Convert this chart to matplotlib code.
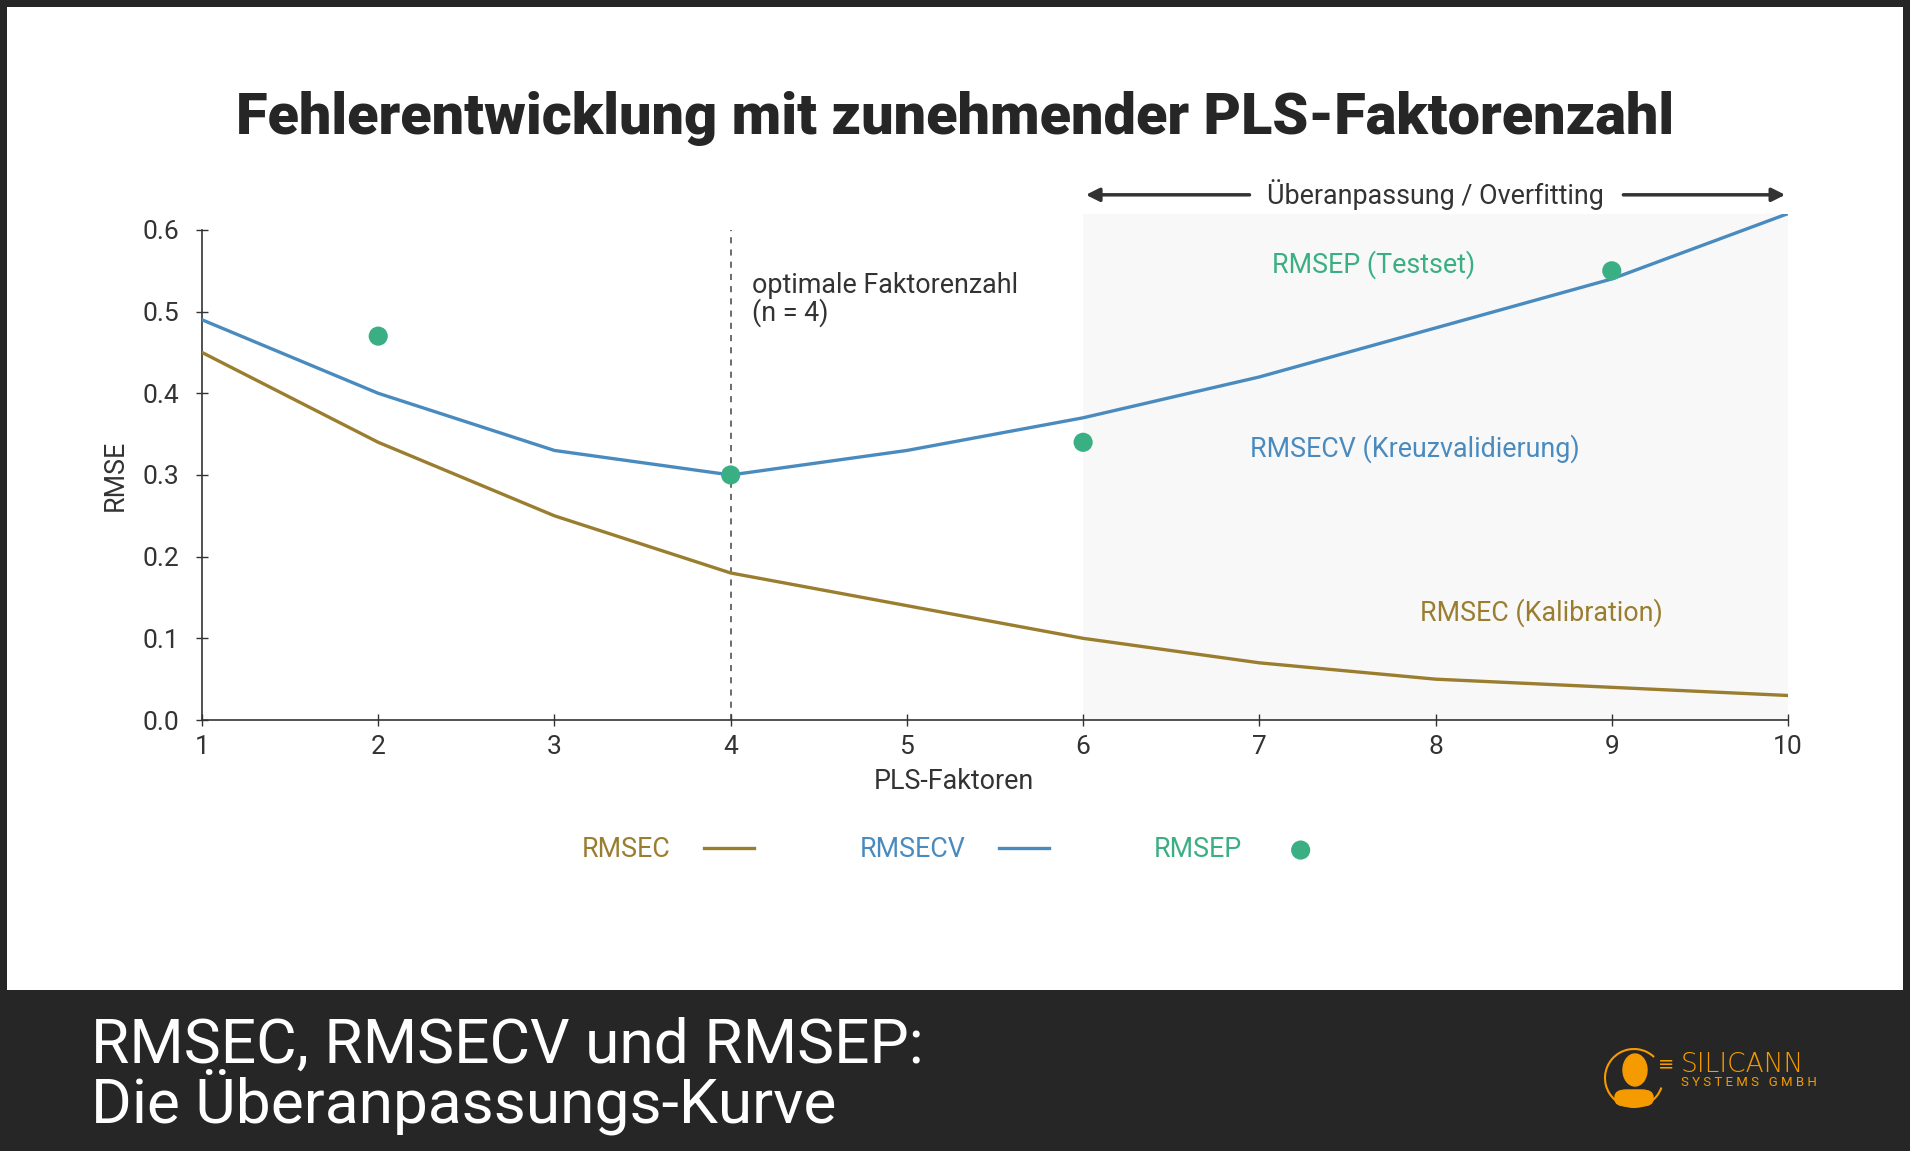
import matplotlib.pyplot as plt
from matplotlib.patches import Rectangle, Ellipse, Arc, FancyBboxPatch

plt.rcParams['font.family'] = ['Roboto', 'DejaVu Sans']

# data
factors = [1, 2, 3, 4, 5, 6, 7, 8, 9, 10]
rmsec = [0.45, 0.34, 0.25, 0.18, 0.14, 0.10, 0.07, 0.05, 0.04, 0.03]
rmsecv = [0.49, 0.40, 0.33, 0.30, 0.33, 0.37, 0.42, 0.48, 0.54, 0.62]
rmsep_x = [2, 4, 6, 9]
rmsep_y = [0.47, 0.30, 0.34, 0.55]
yticks = [0.0, 0.1, 0.2, 0.3, 0.4, 0.5, 0.6]

c_cal = '#9a7d2e'
c_cv = '#4a8bbf'
c_p = '#3baf84'
c_txt = '#333333'
c_dark = '#262626'
fs = 19.4

fig = plt.figure(figsize=(19.10, 11.51), dpi=100)
fig.patch.set_facecolor(c_dark)
# white panel
fig.patches.append(Rectangle((7 / 1910, 1 - 990 / 1151), 1896 / 1910, 983 / 1151,
                             transform=fig.transFigure, facecolor='white', edgecolor='none', zorder=-10))

ax = fig.add_axes([202 / 1910, 1 - 720 / 1151, 1586 / 1910, 506.4 / 1151])
ax.set_zorder(5)
ax.set_facecolor('none')
ax.set_xlim(1, 10)
ax.set_ylim(0, 0.62)

# overfitting zone
ax.axvspan(6, 10, color='#f8f8f8', zorder=0, lw=0)

ax.plot(factors, rmsec, color=c_cal, lw=2.4, zorder=3, label='RMSEC')
ax.plot(factors, rmsecv, color=c_cv, lw=2.4, zorder=3, label='RMSECV')
ax.scatter(rmsep_x, rmsep_y, s=190, color=c_p, zorder=4, label='RMSEP', edgecolors='none')

ax.plot([4, 4], [0, 0.6], color='#444444', lw=1.1, ls=(0, (4, 4)), zorder=2)
ax.text(4.12, 0.549, 'optimale Faktorenzahl\n(n = 4)', fontsize=fs, color=c_txt,
        va='top', ha='left', linespacing=1.0)

ax.text(7.65, 0.557, 'RMSEP (Testset)', fontsize=fs, color=c_p, ha='center', va='center')
ax.text(7.88, 0.332, 'RMSECV (Kreuzvalidierung)', fontsize=fs, color=c_cv, ha='center', va='center')
ax.text(8.6, 0.131, 'RMSEC (Kalibration)', fontsize=fs, color=c_cal, ha='center', va='center')

# overfitting arrow
ax.annotate('', xy=(6, 0.643), xytext=(6.96, 0.643),
            arrowprops=dict(arrowstyle='-|>', color=c_txt, lw=2.5, mutation_scale=20),
            annotation_clip=False)
ax.annotate('', xy=(10, 0.643), xytext=(9.05, 0.643),
            arrowprops=dict(arrowstyle='-|>', color=c_txt, lw=2.5, mutation_scale=20),
            annotation_clip=False)
ax.text(8.0, 0.643, 'Überanpassung / Overfitting', fontsize=fs, color=c_txt,
        ha='center', va='center', clip_on=False)

for s in ['top', 'right']:
    ax.spines[s].set_visible(False)
for s in ['left', 'bottom']:
    ax.spines[s].set_color(c_txt)
    ax.spines[s].set_linewidth(1.2)
ax.spines['left'].set_bounds(0, 0.6)

ax.set_xticks(factors)
ax.set_yticks(yticks)
ax.set_yticklabels([f'{v:.1f}' for v in yticks])
ax.tick_params(direction='inout', length=9, width=1, colors=c_txt, labelsize=19, labelcolor=c_txt)
ax.tick_params(axis='x', pad=6)
ax.tick_params(axis='y', pad=12)

ax.set_ylabel('RMSE', fontsize=fs, color=c_txt)
ax.yaxis.set_label_coords(-0.046, 0.3 / 0.62)
ax.set_xlabel('PLS-Faktoren', fontsize=fs, color=c_txt)
ax.xaxis.set_label_coords(0.474, -0.095)

leg = ax.legend(loc='center', bbox_to_anchor=(0.474, -0.256), ncol=3, frameon=False,
                markerfirst=False, fontsize=fs, handlelength=1.85, handletextpad=1.25,
                columnspacing=3.9, scatterpoints=1)
for t, c in zip(leg.get_texts(), [c_cal, c_cv, c_p]):
    t.set_color(c)

fig.text(0.5, 1 - 118 / 1151, 'Fehlerentwicklung mit zunehmender PLS-Faktorenzahl',
         fontsize=41.5, fontweight='black', color='#262626', ha='center', va='center')

fig.text(91 / 1910, 1 - 1076 / 1151, 'RMSEC, RMSECV und RMSEP:\nDie Überanpassungs-Kurve',
         fontsize=44.8, color='white', ha='left', va='center', linespacing=0.89)

# logo
lc = '#f59b00'
cx, cy = 1634 / 1910, 1 - 1078 / 1151
fig.patches.append(Arc((cx, cy), 58 / 1910, 58 / 1151, theta1=60, theta2=330,
                       transform=fig.transFigure, color=lc, lw=1.5))
fig.patches.append(Ellipse((cx + 1 / 1910, cy + 8 / 1151), 24 / 1910, 32 / 1151,
                           transform=fig.transFigure, color=lc))
fig.patches.append(FancyBboxPatch((cx - 19 / 1910, cy - 28 / 1151), 38 / 1910, 16 / 1151,
                                  boxstyle='round,pad=0,rounding_size=0.006',
                                  transform=fig.transFigure, color=lc))
fig.text(1658 / 1910, 1 - 1064 / 1151, '≡', fontsize=14, color=lc, ha='left', va='center')
fig.text(1681 / 1910, 1 - 1064 / 1151, 'SILICANN', fontsize=19, color=lc, ha='left', va='center',
         family='DejaVu Sans', fontweight='light')
fig.text(1681 / 1910, 1 - 1083 / 1151, 'S Y S T E M S   G M B H', fontsize=9.5, color=lc,
         ha='left', va='center')

fig.savefig('out.png', dpi=100, facecolor=fig.get_facecolor())
